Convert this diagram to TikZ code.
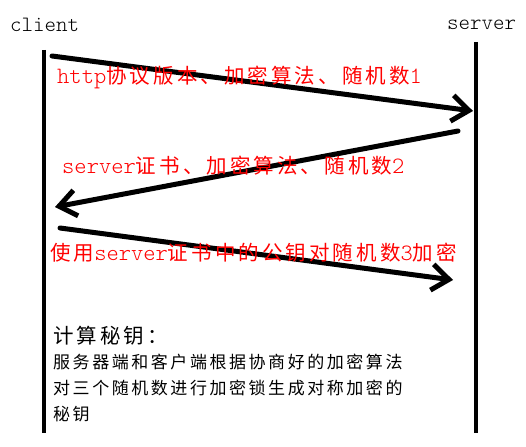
\documentclass[tikz,border=0pt]{standalone}
\usepackage{fontspec}
\setmonofont{Latin Modern Mono Light}
\newfontfamily\cjk[LetterSpace=15]{Noto Sans CJK SC}
\newcommand\lt[1]{{\fontsize{23.4}{23.4}\selectfont\ttfamily #1}}
\usetikzlibrary{arrows.meta}

\begin{document}
\begin{tikzpicture}[x=1pt, y=-1pt,
        every node/.style={inner sep=0pt, anchor=base west},
        role/.style={font=\fontsize{21.9}{21.9}\selectfont\ttfamily},
        msg/.style={text=red, font=\fontsize{20.5}{20.5}\selectfont\cjk},
        note/.style={font=\fontsize{17}{26}\selectfont\cjk, align=left},
        life/.style={line width=4pt},
        call/.style={->, line width=5pt, line cap=round,
            >={Straight Barb[length=17pt, width=26pt]}}]
    \useasboundingbox (0,0) rectangle (526,446);
    \node[role] (client) at (10,32) {client};
    \node[role] (server) at (447,30) {server};
    % life lines
    \coordinate (cl top) at (43.5,50);
    \coordinate (cl end) at (43.5,433);
    \coordinate (sv top) at (475.5,42);
    \coordinate (sv end) at (475.5,433);
    \draw[life] (cl top) -- (cl end);
    \draw[life] (sv top) -- (sv end);
    % messages
    \coordinate (m1 from) at (52,56);
    \coordinate (m1 to) at (473,111);
    \coordinate (m2 from) at (458,131);
    \coordinate (m2 to) at (55,207);
    \coordinate (m3 from) at (60,228);
    \coordinate (m3 to) at (453,280);
    \draw[call] (m1 from) -- (m1 to);
    \draw[call] (m2 from) -- (m2 to);
    \draw[call] (m3 from) -- (m3 to);
    \node[msg] (hello) at (57,84) {\lt{http}协议版本、加密算法、随机数\lt{1}};
    \node[msg] (cert) at (62,174) {\lt{server}证书、加密算法、随机数\lt{2}};
    \node[msg] (premaster) at (50,260) {使用\lt{server}证书中的公钥对随机数\lt{3}加密};
    % key computation
    \node[font=\fontsize{20.5}{20.5}\selectfont\cjk] (keytitle) at (53,343) {计算秘钥：};
    \node[note] (keytext) at (53,420) {服务器端和客户端根据协商好的加密算法\\
        对三个随机数进行加密锁生成对称加密的\\
        秘钥};
\end{tikzpicture}
\end{document}
